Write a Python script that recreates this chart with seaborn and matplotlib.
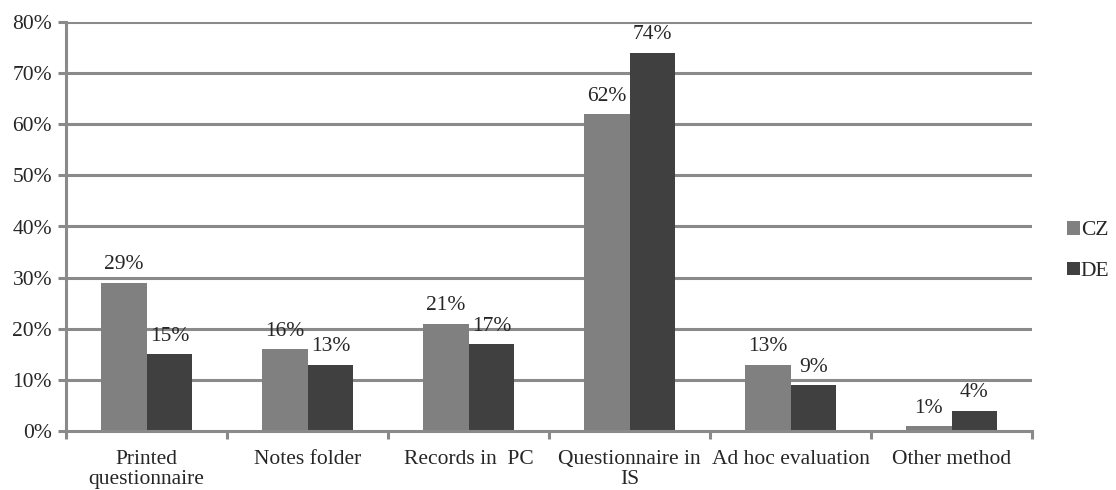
import matplotlib
matplotlib.use("Agg")
import matplotlib.pyplot as plt
import seaborn as sns
import pandas as pd
from matplotlib.ticker import FixedLocator, PercentFormatter

categories = ["Printed\nquestionnaire", "Notes folder", "Records in  PC",
              "Questionnaire in\nIS", "Ad hoc evaluation", "Other method"]
cz_values = [29, 16, 21, 62, 13, 1]
de_values = [15, 13, 17, 74, 9, 4]
series = ["CZ", "DE"]
y_ticks = [0, 10, 20, 30, 40, 50, 60, 70, 80]

df = pd.DataFrame({
    "category": categories * 2,
    "value": cz_values + de_values,
    "series": [series[0]] * len(categories) + [series[1]] * len(categories),
})

sns.set_style("white")
plt.rcParams["font.family"] = ["Liberation Serif", "DejaVu Serif"]

FS = 15.5
fig = plt.figure(figsize=(11.16, 4.90), dpi=100)
ax = fig.add_axes([66 / 1116, 1 - 431 / 490, (1032 - 66) / 1116, (431 - 22) / 490])

grid_col = "#8a8a8a"
ax.set_axisbelow(True)
for t in y_ticks[1:]:
    ax.axhline(t, color=grid_col, lw=2.2, zorder=0)

sns.barplot(data=df, x="category", y="value", hue="series",
            palette=["#808080", "#404040"], width=0.57, gap=0,
            saturation=1, ax=ax, legend=True, order=categories,
            linewidth=0, edgecolor="none")

for cont in ax.containers:
    ax.bar_label(cont, labels=[f"{v:.0f}%" for v in cont.datavalues],
                 padding=6, fontsize=FS)

ax.set_ylim(0, 80)
ax.set_xlim(-0.5, len(categories) - 0.5)
ax.yaxis.set_major_locator(FixedLocator(y_ticks))
ax.yaxis.set_major_formatter(PercentFormatter(decimals=0))
ax.set_xlabel("")
ax.set_ylabel("")

for side in ["top", "right"]:
    ax.spines[side].set_visible(False)
for side in ["left", "bottom"]:
    ax.spines[side].set_color(grid_col)
    ax.spines[side].set_linewidth(2.2)

ax.tick_params(axis="y", direction="out", length=6, width=2.2, color=grid_col,
               labelsize=FS, pad=4, left=True)
ax.tick_params(axis="x", which="major", length=0, labelsize=FS, pad=14)
ax.set_xticks([i + 0.5 for i in range(-1, len(categories))], minor=True)
ax.tick_params(axis="x", which="minor", direction="out", length=6, width=2.2,
               color=grid_col, bottom=True)
for lbl in ax.get_xticklabels():
    lbl.set_linespacing(1.05)

leg = ax.legend(loc="center left", bbox_to_anchor=(1.036, 0.44), frameon=False,
                fontsize=FS, handlelength=0.6, handleheight=0.6,
                handletextpad=0.05, labelspacing=1.0, borderaxespad=0,
                borderpad=0)

fig.savefig("out.png", dpi=100)
